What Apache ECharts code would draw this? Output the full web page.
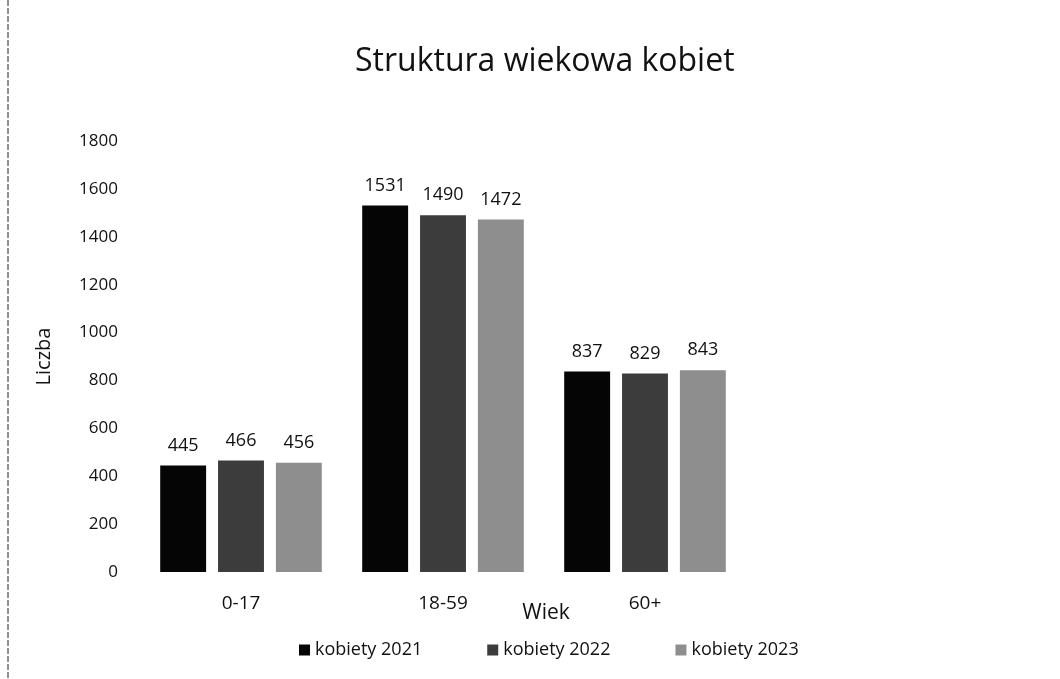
<!DOCTYPE html>
<html>
    <head>
        <meta charset='utf-8'>
        <script src='https://cdn.jsdelivr.net/npm/echarts@6/dist/echarts.min.js'></script>
    </head>
    <body>
        <style>
            html, body, #main {
                width: 100%;
                height: 100%;
                margin: 0;
                background: #fff;
            }
        </style>
        <div id="main"></div>
        <script>
            var categories = ['0-17', '18-59', '60+'];
            var seriesNames = ['kobiety 2021', 'kobiety 2022', 'kobiety 2023'];
            var values2021 = [445, 1531, 837];
            var values2022 = [466, 1490, 829];
            var values2023 = [456, 1472, 843];
            var yTicks = { min: 0, max: 1800, interval: 200 };

            var font = 'Open Sans, Noto Sans, sans-serif';
            var colors = ['#050505', '#3c3c3c', '#8e8e8e'];
            var allValues = [values2021, values2022, values2023];

            var myChart = echarts.init(document.getElementById('main'));

            var series = [];
            for (var i = 0; i < allValues.length; i++) {
                series.push({
                    name: seriesNames[i],
                    type: 'bar',
                    data: allValues[i],
                    barGap: '26%',
                    barCategoryGap: '20%',
                    itemStyle: { color: colors[i] },
                    label: {
                        show: true,
                        position: 'top',
                        distance: 11,
                        color: '#111',
                        fontSize: 18,
                        fontFamily: font
                    }
                });
            }

            myChart.setOption({
                backgroundColor: '#fff',
                animation: false,
                title: {
                    text: 'Struktura wiekowa kobiet',
                    left: 350,
                    top: 41,
                    textStyle: {
                        color: '#111',
                        fontSize: 32,
                        fontWeight: 'normal',
                        fontFamily: font
                    }
                },
                legend: {
                    data: seriesNames,
                    left: 294,
                    top: 636,
                    itemWidth: 11,
                    itemHeight: 11,
                    itemGap: 65,
                    icon: 'rect',
                    textStyle: { color: '#111', fontSize: 18, fontFamily: font }
                },
                grid: {
                    left: 140,
                    right: 314,
                    top: 141,
                    bottom: 107,
                    containLabel: false
                },
                xAxis: {
                    type: 'category',
                    data: categories,
                    name: 'Wiek',
                    nameLocation: 'middle',
                    nameGap: 31,
                    nameMoveOverlap: false,
                    nameTextStyle: {
                        color: '#111',
                        fontSize: 21,
                        fontFamily: font,
                        padding: [0, 0, 0, 206]
                    },
                    axisLine: { show: false },
                    axisTick: { show: false },
                    axisLabel: { color: '#111', fontSize: 19, fontFamily: font, margin: 22 }
                },
                yAxis: {
                    type: 'value',
                    min: yTicks.min,
                    max: yTicks.max,
                    interval: yTicks.interval,
                    name: 'Liczba',
                    nameLocation: 'middle',
                    nameGap: 86,
                    nameTextStyle: { color: '#111', fontSize: 20, fontFamily: font },
                    axisLine: { show: false },
                    axisTick: { show: false },
                    splitLine: { show: false },
                    axisLabel: {
                        color: '#111',
                        fontSize: 17,
                        fontFamily: font,
                        margin: 22,
                        formatter: function (v) { return String(v); }
                    }
                },
                graphic: [{
                    type: 'line',
                    shape: { x1: 8, y1: 0, x2: 8, y2: 679 },
                    style: { stroke: '#222', lineWidth: 1, lineDash: [6, 2] }
                }],
                series: series
            });
        </script>
    </body>
</html>
